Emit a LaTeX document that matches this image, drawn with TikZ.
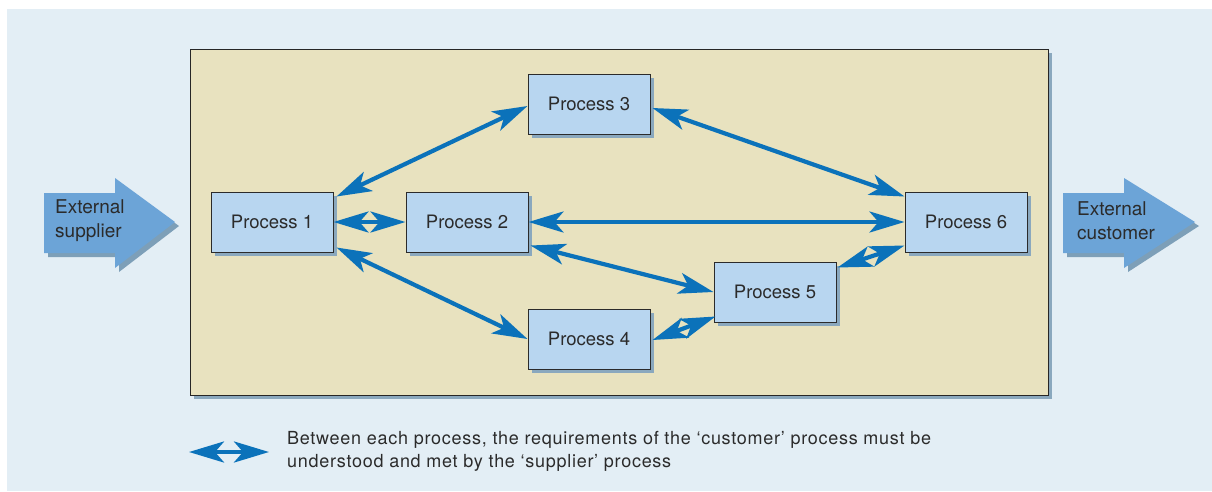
\documentclass[tikz,border=0pt]{standalone}
\usepackage{fontspec}
\setmainfont{TeX Gyre Heros}
\usetikzlibrary{arrows.meta,calc}
\definecolor{bgblue}{HTML}{E3EEF5}
\definecolor{beige}{HTML}{E8E2BF}
\definecolor{procfill}{HTML}{B8D6F0}
\definecolor{shadowc}{HTML}{8AA8BE}
\definecolor{arrowc}{HTML}{0B72BA}
\definecolor{blockc}{HTML}{6CA4D7}
\definecolor{blockshadow}{HTML}{7D9FB8}
\definecolor{txt}{HTML}{2B2B2B}
\tikzset{
  proc/.style={draw=txt, line width=1pt, fill=procfill, minimum width=122pt, minimum height=60pt, inner sep=0pt, font=\fontsize{18.5}{20}\selectfont, text=txt},
  link/.style={draw=arrowc, line width=4.2pt, {Stealth[length=35pt,width=21pt,inset=9pt]}-{Stealth[length=35pt,width=21pt,inset=9pt]}},
  blocklabel/.style={font=\fontsize{19}{24}\selectfont, text=txt, align=left, inner sep=0pt},
}
\begin{document}
\begin{tikzpicture}[x=1pt,y=-1pt]
\useasboundingbox (0,0) rectangle (1212,491);
% background panel
\fill[bgblue] (7,9) rectangle (1212,491);
% main beige frame
\fill[shadowc] (194,53) rectangle (1052,399);
\draw[fill=beige, draw=black!85, line width=1pt] (190,49) rectangle (1048,395);
% process shadows
\foreach \cx/\cy in {272/222, 467/222, 589/104, 589/339, 775/292, 966/222}
  \fill[shadowc] (\cx-61+4,\cy-30+4) rectangle (\cx+61+4,\cy+30+4);
% processes
\node[proc] (p1) at (272,222) {Process 1};
\node[proc] (p2) at (467,222) {Process 2};
\node[proc] (p3) at (589,104) {Process 3};
\node[proc] (p4) at (589,339) {Process 4};
\node[proc] (p5) at (775,292) {Process 5};
\node[proc] (p6) at (966,222) {Process 6};
% connectors
\draw[link] ([shift={(3,5)}]p1.north east) -- ([shift={(0,2)}]p3.west);
\draw[link] ([shift={(2,4)}]p3.east) -- ([shift={(0,5)}]p6.north west);
\draw[link] (p1.east) -- (p2.west);
\draw[link] (p2.east) -- (p6.west);
\draw[link] ([shift={(2,-7)}]p2.south east) -- (p5.west);
\draw[link] ([shift={(3,-5)}]p1.south east) -- (p4.west);
\draw[link] ([shift={(2,1)}]p4.east) -- ([shift={(2,-6)}]p5.south west);
\draw[link] ([shift={(1,6)}]p5.north east) -- ([shift={(0,-7)}]p6.south west);
% external block arrows
\fill[blockshadow] (48,197) -- (119,197) -- (119,182) -- (179,226) -- (119,272) -- (119,257) -- (48,257) -- cycle;
\fill[blockc] (44,193) -- (115,193) -- (115,178) -- (175,222) -- (115,268) -- (115,253) -- (44,253) -- cycle;
\node[blocklabel, anchor=west] (supplier) at (55,221) {External\\supplier};
\fill[blockshadow] (1067,197) -- (1128,197) -- (1128,182) -- (1199,226) -- (1128,272) -- (1128,257) -- (1067,257) -- cycle;
\fill[blockc] (1063,193) -- (1124,193) -- (1124,178) -- (1195,222) -- (1124,268) -- (1124,253) -- (1063,253) -- cycle;
\node[blocklabel, anchor=west] (customer) at (1077,221) {External\\customer};
% legend
\coordinate (legL) at (189,452);
\coordinate (legR) at (269,452);
\draw[link] (legL) -- (legR);
\node[anchor=west, font={\fontsize{18}{23}\selectfont\addfontfeatures{LetterSpace=4}}, text=txt, align=left, inner sep=0pt] (legend) at (287,451)
  {Between each process, the requirements of the ‘customer’ process must be\\understood and met by the ‘supplier’ process};
\end{tikzpicture}
\end{document}
